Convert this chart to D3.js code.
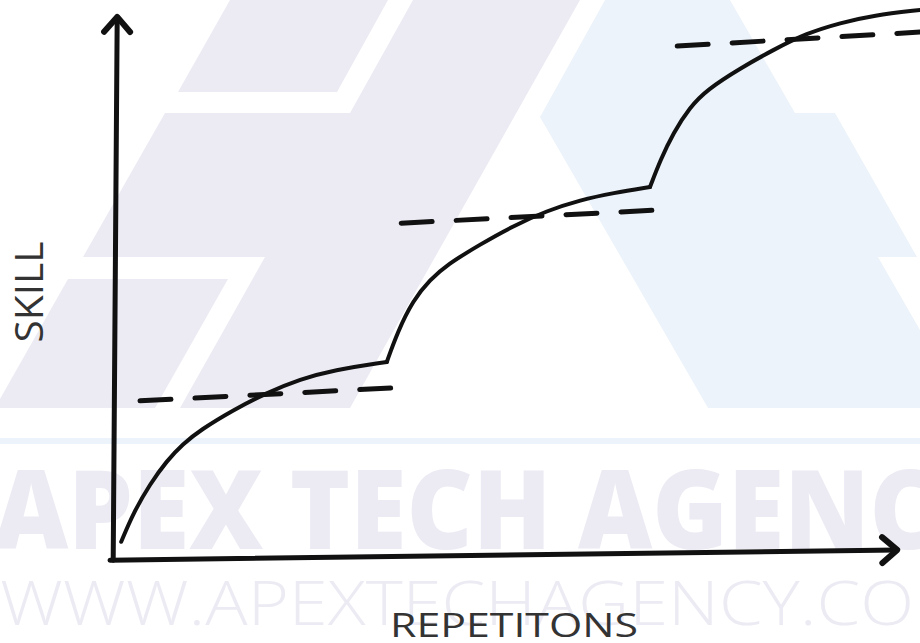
<!DOCTYPE html>
<html>
<head>
<meta charset="utf-8">
<script src="https://cdn.jsdelivr.net/npm/d3@7"></script>
<style>
  html, body { margin: 0; padding: 0; background: #fff; }
  svg { display: block; }
</style>
</head>
<body>
<svg id="chart" width="920" height="643"></svg>
<script>
// skill curve, three learning stages (repetitions 0-100, skill 0-100)
const stage1 = [[0.4, 3.0], [1.9, 8.3], [4.0, 13.7], [6.1, 18.0], [8.1, 21.1], [10.3, 23.7],
  [14.4, 27.4], [18.6, 30.6], [22.8, 33.1], [26.9, 34.8], [33.6, 36.3]];
const stage2 = [[33.6, 36.3], [34.9, 41.7], [36.9, 47.8], [39.0, 51.5], [41.1, 54.3], [45.3, 58.1],
  [49.4, 61.5], [53.6, 64.3], [57.8, 66.3], [61.9, 67.6], [66.5, 68.7]];
const stage3 = [[66.5, 68.7], [67.8, 73.7], [69.4, 78.7], [71.5, 83.5], [73.6, 86.7], [77.8, 90.7],
  [81.9, 94.1], [86.1, 97.2], [90.3, 99.1], [94.4, 100.5], [100.3, 101.5]];

// dashed plateau levels
const plateauStart = [[2.75, 29.1], [35.4, 62.0], [69.9, 94.8]];
const plateauEnd = [[34.4, 31.5], [66.9, 64.4], [100.3, 97.4]];

// hand drawn axes
const xAxisLine = [[-1.0, -0.4], [97.4, 1.5]];
const yAxisLine = [[-0.6, -0.4], [-0.1, 100.2]];

const xLabel = "REPETITONS";
const yLabel = "SKILL";

const svg = d3.select("#chart");
const width = 920, height = 643;

const x = d3.scaleLinear().domain([0, 100]).range([118, 918]);
const y = d3.scaleLinear().domain([0, 100]).range([558, 18]);

// ---- watermark background ----
const lavender = "#ecebf4";
const paleBlue = "#ecf3fa";
const bgShapes = [
  { fill: lavender, pts: [[230, 0], [388, 0], [337, 92], [178, 92]] },
  { fill: lavender, pts: [[413, 0], [580, 0], [350, 408], [180, 408], [265, 257], [83, 257], [165, 113], [350, 113]] },
  { fill: lavender, pts: [[68, 279], [228, 279], [155, 408], [0, 408], [0, 399]] },
  { fill: paleBlue, pts: [[605, 0], [730, 0], [795, 113], [835, 113], [917, 257], [878, 257], [920, 330], [920, 408], [708, 408], [540, 117]] }
];

let bg = svg.append("g").attr("id", "watermark");
bg.selectAll("polygon")
  .data(bgShapes)
  .enter()
  .append("polygon")
  .attr("points", d => d.pts.map(p => p.join(",")).join(" "))
  .attr("fill", d => d.fill);

bg.append("rect")
  .attr("x", 0).attr("y", 438)
  .attr("width", width).attr("height", 6)
  .attr("fill", paleBlue);

bg.append("text")
  .attr("x", -6).attr("y", 549)
  .attr("textLength", 1010)
  .attr("lengthAdjust", "spacingAndGlyphs")
  .style("font-family", "'Open Sans', sans-serif")
  .style("font-weight", 800)
  .style("font-size", "110px")
  .attr("fill", lavender)
  .text("APEX TECH AGENCY");

bg.append("text")
  .attr("x", 0).attr("y", 625)
  .attr("textLength", 975)
  .attr("lengthAdjust", "spacingAndGlyphs")
  .style("font-family", "'Open Sans', sans-serif")
  .style("font-weight", 300)
  .style("font-size", "60px")
  .attr("fill", lavender)
  .text("WWW.APEXTECHAGENCY.COM");

// ---- chart ----
let plot = svg.append("g").attr("id", "plot");

let defs = svg.append("defs");
defs.append("marker")
  .attr("id", "arrow")
  .attr("markerUnits", "userSpaceOnUse")
  .attr("viewBox", "-20 -16 24 32")
  .attr("markerWidth", 24)
  .attr("markerHeight", 32)
  .attr("refX", 0)
  .attr("refY", 0)
  .attr("orient", "auto")
  .style("overflow", "visible")
  .append("path")
  .attr("d", "M-15,-13 L0,0 L-15,13")
  .attr("fill", "none")
  .attr("stroke", "#111")
  .attr("stroke-width", 6)
  .attr("stroke-linecap", "round")
  .attr("stroke-linejoin", "round");

const line = d3.line().x(d => x(d[0])).y(d => y(d[1]));

plot.selectAll(".axis-line")
  .data([xAxisLine, yAxisLine])
  .enter()
  .append("path")
  .attr("class", "axis-line")
  .attr("d", line)
  .attr("fill", "none")
  .attr("stroke", "#111")
  .attr("stroke-width", 5)
  .attr("stroke-linecap", "round")
  .attr("marker-end", "url(#arrow)");

// plateau dashes
plot.selectAll(".plateau")
  .data(plateauStart)
  .enter()
  .append("path")
  .attr("class", "plateau")
  .attr("d", (d, i) => line([d, plateauEnd[i]]))
  .attr("fill", "none")
  .attr("stroke", "#111")
  .attr("stroke-width", 5)
  .attr("stroke-linecap", "round")
  .attr("stroke-dasharray", "31,24");

// learning curve, one smooth piece per stage so the kinks stay sharp
const curve = d3.line()
  .x(d => x(d[0]))
  .y(d => y(d[1]))
  .curve(d3.curveBasis);

plot.selectAll(".stage")
  .data([stage1, stage2, stage3])
  .enter()
  .append("path")
  .attr("class", "stage")
  .attr("d", curve)
  .attr("fill", "none")
  .attr("stroke", "#111")
  .attr("stroke-width", 4)
  .attr("stroke-linecap", "round")
  .attr("stroke-linejoin", "round");

// axis titles
plot.append("text")
  .attr("transform", "translate(43, 292) rotate(-90)")
  .attr("text-anchor", "middle")
  .attr("textLength", 101)
  .attr("lengthAdjust", "spacingAndGlyphs")
  .style("font-family", "'Open Sans', sans-serif")
  .style("font-size", "38px")
  .attr("fill", "#333")
  .text(yLabel);

plot.append("text")
  .attr("x", 514).attr("y", 637)
  .attr("text-anchor", "middle")
  .attr("textLength", 248)
  .attr("lengthAdjust", "spacingAndGlyphs")
  .style("font-family", "'Open Sans', sans-serif")
  .style("font-size", "33px")
  .attr("fill", "#333")
  .text(xLabel);
</script>
</body>
</html>
